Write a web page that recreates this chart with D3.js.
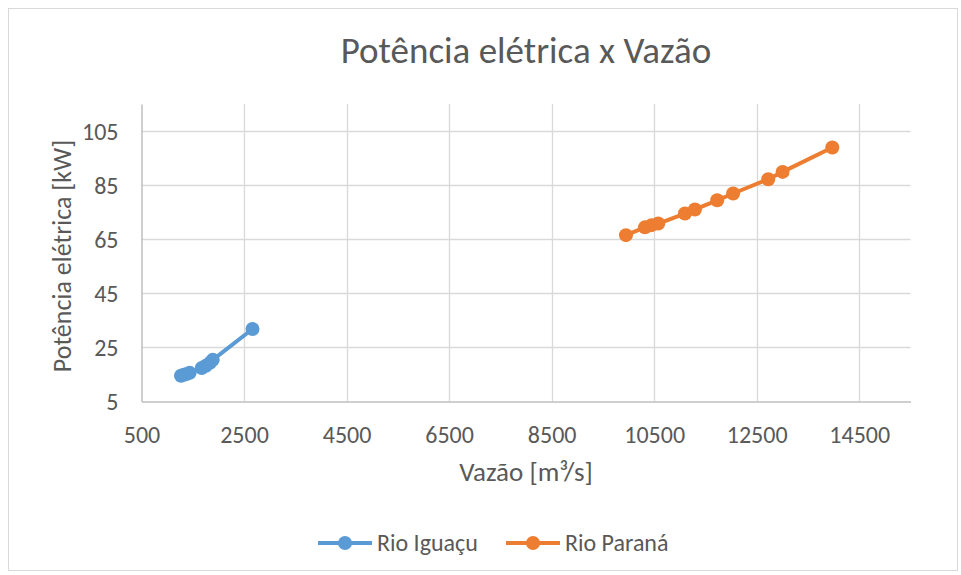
<!DOCTYPE html>
<html>
<head>
<meta charset="utf-8">
<script src="https://cdn.jsdelivr.net/npm/d3@7"></script>
<style>
  html, body { margin: 0; padding: 0; background: #fff; }
  svg { display: block; font-family: Carlito, Lato, "Open Sans", sans-serif; }
</style>
</head>
<body>
<svg id="chart" width="961" height="575"></svg>
<script>
// Flow (m³/s) and electric power (kW) for each river
const iguacuFlow  = [1270, 1325, 1385, 1440, 1675, 1755, 1835, 1890, 2665];
const iguacuPower = [14.5, 14.9, 15.2, 15.6, 17.4, 18.2, 19.3, 20.4, 31.8];
const paranaFlow  = [9950, 10320, 10450, 10580, 11100, 11295, 11730, 12040, 12725, 13005, 13975];
const paranaPower = [66.5, 69.4, 70.2, 70.8, 74.5, 76.0, 79.4, 81.9, 87.2, 89.9, 98.9];

const xTicks = [500, 2500, 4500, 6500, 8500, 10500, 12500, 14500];
const yTicks = [5, 25, 45, 65, 85, 105];

const seriesNames  = ["Rio Iguaçu", "Rio Paraná"];
const seriesColors = ["#5B9BD5", "#ED7D31"];

const series = [
  { name: seriesNames[0], color: seriesColors[0], pts: iguacuFlow.map((x, i) => [x, iguacuPower[i]]) },
  { name: seriesNames[1], color: seriesColors[1], pts: paranaFlow.map((x, i) => [x, paranaPower[i]]) }
];

const svg = d3.select("#chart");
const W = 961, H = 575;
const plot = { left: 141.5, right: 910.5, top: 104, bottom: 401.5 };
const textColor = "#595959";

// outer chart frame
svg.append("rect")
  .attr("x", 8.5).attr("y", 8.5)
  .attr("width", W - 12).attr("height", H - 13)
  .attr("fill", "#fff").attr("stroke", "#d9d9d9").attr("stroke-width", 1);

const x = d3.scaleLinear().domain([500, 15500]).range([plot.left, plot.right]);
const y = d3.scaleLinear().domain([5, 115]).range([plot.bottom, plot.top]);

// gridlines
const grid = svg.append("g");
grid.selectAll("line.gx").data(xTicks.slice(1)).join("line")
  .attr("x1", d => Math.round(x(d)) + 0.5).attr("x2", d => Math.round(x(d)) + 0.5)
  .attr("y1", plot.top).attr("y2", plot.bottom)
  .attr("stroke", "#d9d9d9").attr("stroke-width", 1.3);
grid.selectAll("line.gy").data(yTicks.slice(1)).join("line")
  .attr("x1", plot.left).attr("x2", plot.right)
  .attr("y1", d => Math.round(y(d)) + 0.5).attr("y2", d => Math.round(y(d)) + 0.5)
  .attr("stroke", "#d9d9d9").attr("stroke-width", 1.3);

// axes
const xAxis = svg.append("g")
  .attr("transform", `translate(0,${plot.bottom})`)
  .call(d3.axisBottom(x).tickValues(xTicks).tickSize(0).tickPadding(24).tickFormat(d3.format("d")));
const yAxis = svg.append("g")
  .attr("transform", `translate(${plot.left},0)`)
  .call(d3.axisLeft(y).tickValues(yTicks).tickSize(0).tickPadding(23).tickFormat(d3.format("d")));

[xAxis, yAxis].forEach(a => {
  a.select(".domain").attr("stroke", "#bfbfbf").attr("stroke-width", 1.5);
  a.selectAll("text").attr("fill", textColor).style("font-size", "24px")
    .style("font-family", "Carlito, Lato, 'Open Sans', sans-serif");
});
yAxis.selectAll("text").attr("dy", "0.35em");

// lines and markers
const line = d3.line().x(d => x(d[0])).y(d => y(d[1]));
series.forEach(s => {
  const g = svg.append("g");
  g.append("path").datum(s.pts)
    .attr("d", line).attr("fill", "none")
    .attr("stroke", s.color).attr("stroke-width", 4).attr("stroke-linejoin", "round");
  g.selectAll("circle").data(s.pts).join("circle")
    .attr("cx", d => x(d[0])).attr("cy", d => y(d[1])).attr("r", 7)
    .attr("fill", s.color);
});

// title and axis titles
svg.append("text")
  .attr("x", 526).attr("y", 63).attr("text-anchor", "middle")
  .attr("fill", textColor).style("font-size", "37px")
  .text("Potência elétrica x Vazão");

svg.append("text")
  .attr("x", 526).attr("y", 481).attr("text-anchor", "middle")
  .attr("fill", textColor).style("font-size", "27px")
  .text("Vazão [m³/s]");

svg.append("text")
  .attr("transform", "translate(71,256) rotate(-90)")
  .attr("text-anchor", "middle")
  .attr("fill", textColor).style("font-size", "26px")
  .text("Potência elétrica [kW]");

// legend
const legendX = [318, 506];
const legend = svg.append("g");
series.forEach((s, i) => {
  const lg = legend.append("g").attr("transform", `translate(${legendX[i]},543)`);
  lg.append("line").attr("x1", 0).attr("x2", 54).attr("y1", 0).attr("y2", 0)
    .attr("stroke", s.color).attr("stroke-width", 4);
  lg.append("circle").attr("cx", 27).attr("cy", 0).attr("r", 7).attr("fill", s.color);
  lg.append("text").attr("x", 59).attr("y", 0).attr("dy", "0.35em")
    .attr("fill", textColor).style("font-size", "24px").text(s.name);
});
</script>
</body>
</html>
